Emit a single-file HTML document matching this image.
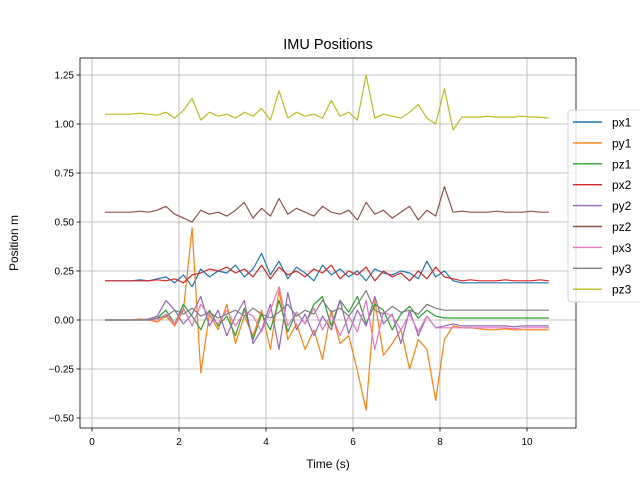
<!DOCTYPE html>
<html><head><meta charset="utf-8"><style>
body{margin:0;background:#fff;}
svg{font-family:"Liberation Sans","DejaVu Sans",sans-serif;}
</style></head><body>
<svg id="chart" width="640" height="480" viewBox="0 0 640 480" xmlns="http://www.w3.org/2000/svg">
<rect width="640" height="480" fill="#fff"/>
<text x="328" y="49" font-size="14.5" text-anchor="middle">IMU Positions</text>
<g id="grid"></g><g id="series"></g><g id="axes"></g><g id="legend"></g>
<text x="328" y="468" font-size="12" text-anchor="middle">Time (s)</text>
<text x="18" y="243" font-size="12" text-anchor="middle" transform="rotate(-90 18 243)">Position m</text>
</svg>
<script>
const names=["px1","py1","pz1","px2","py2","pz2","px3","py3","pz3"];
const colors=["#1f77b4","#ff7f0e","#2ca02c","#d62728","#9467bd","#8c564b","#e377c2","#7f7f7f","#bcbd22"];
const xTicks=[0,2,4,6,8,10];
const yTicks=[-0.5,-0.25,0,0.25,0.5,0.75,1.0,1.25];
const t0=0.3, dt=0.2;
const px1=[0.2,0.2,0.2,0.2,0.205,0.2,0.21,0.22,0.19,0.23,0.17,0.26,0.22,0.25,0.24,0.28,0.22,0.26,0.34,0.23,0.30,0.21,0.27,0.24,0.20,0.28,0.23,0.26,0.22,0.25,0.20,0.26,0.24,0.23,0.25,0.24,0.21,0.30,0.22,0.25,0.20,0.19,0.19,0.19,0.19,0.19,0.19,0.19,0.19,0.19,0.19,0.19];
const py1=[0,0,0,0,0.005,0,-0.01,0.02,-0.03,0.05,0.47,-0.27,0.03,-0.05,0.08,-0.12,0.02,-0.08,0.05,-0.15,0.15,-0.10,-0.02,-0.15,-0.05,-0.20,0.05,-0.12,-0.08,-0.26,-0.46,0.10,-0.18,-0.12,-0.05,-0.25,-0.10,-0.15,-0.41,-0.10,-0.03,-0.04,-0.04,-0.045,-0.05,-0.05,-0.045,-0.05,-0.05,-0.05,-0.05,-0.05];
const pz1=[0,0,0,0,0,0,0.01,0.05,-0.02,0.08,0.02,-0.05,0.05,-0.03,0.02,-0.08,0.06,-0.10,0.03,-0.05,0.10,-0.06,0.04,-0.02,0.08,0.12,-0.03,0.10,0.04,0.12,-0.02,0.08,0.05,-0.05,0.03,0.07,0.01,0.05,0.02,0.01,0.01,0.01,0.01,0.01,0.01,0.01,0.01,0.01,0.01,0.01,0.01,0.01];
const px2=[0.2,0.2,0.2,0.2,0.2,0.2,0.205,0.2,0.21,0.19,0.23,0.24,0.26,0.25,0.27,0.24,0.26,0.22,0.28,0.21,0.27,0.23,0.25,0.22,0.26,0.24,0.28,0.21,0.25,0.23,0.27,0.20,0.25,0.22,0.24,0.20,0.25,0.21,0.27,0.22,0.21,0.2,0.205,0.2,0.2,0.2,0.205,0.2,0.2,0.2,0.205,0.2];
const py2=[0,0,0,0,0,0.005,0.02,0.10,0.05,-0.02,0.03,0.12,-0.03,0.05,-0.08,0.02,0.10,-0.12,-0.05,0.08,-0.15,0.14,-0.05,0.03,-0.08,0.02,-0.05,0.10,-0.07,0.05,-0.03,0.12,-0.02,0.03,-0.12,0.05,-0.08,0.02,-0.04,-0.03,-0.02,-0.03,-0.03,-0.03,-0.03,-0.03,-0.03,-0.035,-0.03,-0.03,-0.03,-0.03];
const pz2=[0.55,0.55,0.55,0.55,0.555,0.55,0.56,0.58,0.54,0.52,0.50,0.56,0.54,0.55,0.53,0.56,0.60,0.52,0.57,0.53,0.62,0.54,0.57,0.55,0.53,0.58,0.55,0.54,0.56,0.51,0.60,0.54,0.56,0.52,0.55,0.58,0.51,0.56,0.53,0.68,0.55,0.555,0.55,0.55,0.55,0.555,0.55,0.55,0.55,0.555,0.55,0.55];
const px3=[0,0,0,0,0,0,0,0.03,-0.02,0.06,-0.03,0.08,0.02,-0.02,0.05,-0.03,0.04,0.02,-0.06,0.05,0.17,-0.03,0.04,-0.02,0.06,-0.05,0.03,-0.08,0.02,-0.06,0.10,-0.15,0.04,0.02,-0.05,0.03,-0.06,0.02,-0.04,-0.04,-0.04,-0.04,-0.04,-0.04,-0.04,-0.04,-0.04,-0.045,-0.04,-0.04,-0.04,-0.04];
const py3=[0,0,0,0,0,0,0.01,0.02,0.05,0.03,0.06,0.02,0.04,0.01,0.03,0.05,0.02,0.06,0.03,0.01,0.04,0.08,0.02,0.05,0.03,0.10,0.04,0.06,0.02,0.08,0.15,0.05,0.03,0.07,0.04,0.05,0.03,0.08,0.06,0.05,0.05,0.05,0.05,0.05,0.05,0.05,0.05,0.05,0.05,0.05,0.05,0.05];
const pz3=[1.05,1.05,1.05,1.05,1.055,1.05,1.045,1.06,1.03,1.07,1.13,1.02,1.06,1.04,1.05,1.03,1.06,1.04,1.08,1.02,1.17,1.03,1.06,1.04,1.05,1.03,1.12,1.04,1.06,1.02,1.25,1.03,1.05,1.04,1.03,1.06,1.10,1.03,1.00,1.18,0.97,1.035,1.035,1.035,1.04,1.035,1.035,1.035,1.04,1.035,1.035,1.03];
const seriesData=[px1,py1,pz1,px2,py2,pz2,px3,py3,pz3];

const L=80,R=576,T=58,B=428;
const X=v=>92+v*43.5;
const Y=v=>320-v*196;
const NS="http://www.w3.org/2000/svg";
function mk(tag,attrs,parent){const e=document.createElementNS(NS,tag);for(const k in attrs)e.setAttribute(k,attrs[k]);parent.appendChild(e);return e;}
const grid=document.getElementById('grid'),axes=document.getElementById('axes'),ser=document.getElementById('series'),leg=document.getElementById('legend');
xTicks.forEach(v=>{
  const g=mk('line',{x1:X(v),x2:X(v),y1:T,y2:B,stroke:'#b0b0b0','stroke-width':0.8},grid);
  
  
  mk('line',{x1:X(v),x2:X(v),y1:B,y2:B+3.5,stroke:'#000','stroke-width':0.8},axes);
  const tx=mk('text',{x:X(v),y:B+17,'font-size':10,'text-anchor':'middle'},axes);
  tx.textContent=String(v);
  
  
});
yTicks.forEach(v=>{
  const g=mk('line',{x1:L,x2:R,y1:Y(v),y2:Y(v),stroke:'#b0b0b0','stroke-width':0.8},grid);
  
  
  mk('line',{x1:L-3.5,x2:L,y1:Y(v),y2:Y(v),stroke:'#000','stroke-width':0.8},axes);
  const tx=mk('text',{x:L-6,y:Y(v)+3.5,'font-size':10,'text-anchor':'end'},axes);
  tx.textContent=v.toFixed(2).replace('-','\u2212');
  
  
});
const frame=mk('rect',{x:L,y:T,width:R-L,height:B-T,fill:'none',stroke:'#000','stroke-width':0.8},axes);


seriesData.forEach((d,si)=>{
  const pts=d.map((v,i)=>X(t0+dt*i).toFixed(1)+','+Y(v).toFixed(1)).join(' ');
  const p=mk('polyline',{points:pts,fill:'none',stroke:colors[si],'stroke-width':1.2,'stroke-linejoin':'round'},ser);
  
  
});
const lb=mk('rect',{x:568,y:110,width:80,height:192,rx:3,fill:'#fff','fill-opacity':0.85,stroke:'#ccc','stroke-width':0.8},leg);


names.forEach((n,i)=>{
  const y=122+i*20.9;
  const ln=mk('line',{x1:573,x2:602,y1:y,y2:y,stroke:colors[i],'stroke-width':1.4},leg);
  
  
  const tx=mk('text',{x:612,y:y+4.5,'font-size':12},leg);
  tx.textContent=n;
  
  
});
</script>
</body></html>
